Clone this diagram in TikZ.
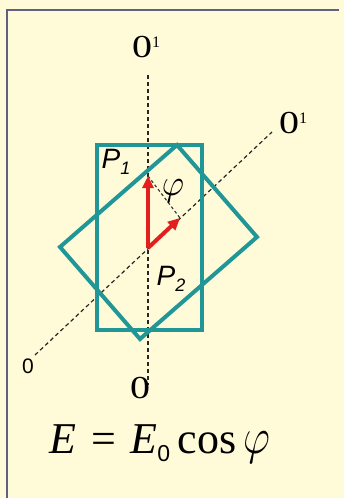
\documentclass[tikz,border=0pt]{standalone}
\usepackage{fix-cm}
\usepackage[no-math]{fontspec}
\setmainfont{Liberation Serif}
\newfontfamily\arialfont{Liberation Sans}
\usetikzlibrary{arrows.meta}
\definecolor{bgcream}{RGB}{255,251,217}
\definecolor{framecol}{RGB}{96,96,128}
\definecolor{tealcol}{RGB}{32,150,150}
\definecolor{redcol}{RGB}{226,30,30}
\tikzset{
  axisline/.style={draw=black!85, line width=1.2pt, dash pattern=on 4pt off 3pt},
  plate/.style={draw=tealcol, line width=4pt, line join=miter},
  vec/.style={draw=redcol, line width=4pt, -{Triangle[length=12pt,width=11pt]}},
  projline/.style={draw=black!80, line width=1.1pt, dash pattern=on 3pt off 2.5pt},
  serifzero/.style={inner sep=0pt, font=\fontsize{32}{36}\selectfont},
  lbl/.style={inner sep=0pt}
}
\begin{document}
\begin{tikzpicture}[x=1pt,y=-1pt]
\useasboundingbox (0,0) rectangle (344,498);
\fill[bgcream] (0,0) rectangle (344,498);
\draw[framecol, line width=1.6pt] (7,498) -- (7,10) -- (339,10);
% axes
\coordinate (vtop) at (148,75);
\coordinate (vbot) at (148,385);
\coordinate (dlow) at (35,355);
\coordinate (dhigh) at (272,132);
\draw[axisline] (vtop) -- (vbot);
\draw[axisline] (dlow) -- (dhigh);
% plates
\draw[plate] (97,145) rectangle (202,330);
\coordinate (rt) at (177,145);
\coordinate (rr) at (257,237);
\coordinate (rb) at (140,339);
\coordinate (rl) at (60,247);
\draw[plate] (rt) -- (rr) -- (rb) -- (rl) -- cycle;
% vectors
\coordinate (O) at (148,248);
\coordinate (A) at (148,176);
\coordinate (B) at (180,218);
\draw[projline] (A) -- (B);
\draw[vec] (O) -- (A);
\draw[vec] (O) -- (B);
% labels
\node[serifzero] (t0) at (146,47) {\scalebox{1.25}[1]{0}\raisebox{10pt}{\fontsize{16}{16}\selectfont 1}};
\node[serifzero] (r0) at (293,123) {\scalebox{1.25}[1]{0}\raisebox{10pt}{\fontsize{16}{16}\selectfont 1}};
\node[serifzero] (b0) at (140,388) {\scalebox{1.25}[1]{0}};
\node[lbl, font=\arialfont\fontsize{21}{24}\selectfont] (l0) at (28,366) {0};
\node[lbl, font=\arialfont\itshape\fontsize{28}{30}\selectfont] (p1) at (116,162) {P\raisebox{-6pt}{\fontsize{18}{18}\selectfont 1}};
\node[lbl, font=\arialfont\itshape\fontsize{28}{30}\selectfont] (p2) at (171,279) {P\raisebox{-6pt}{\fontsize{18}{18}\selectfont 2}};
\node[lbl] (phi) at (173,191) {\scalebox{3.4}[3.7]{$\varphi$}};
\node[lbl, font=\fontsize{44}{50}\selectfont, anchor=base] (eq) at (160,453) {\textit{E}\,\,=\,\,\textit{E}\raisebox{-8pt}{\arialfont\fontsize{23}{23}\selectfont 0}\,cos\,\scalebox{0.95}[1.15]{$\varphi$}};
\end{tikzpicture}
\end{document}
